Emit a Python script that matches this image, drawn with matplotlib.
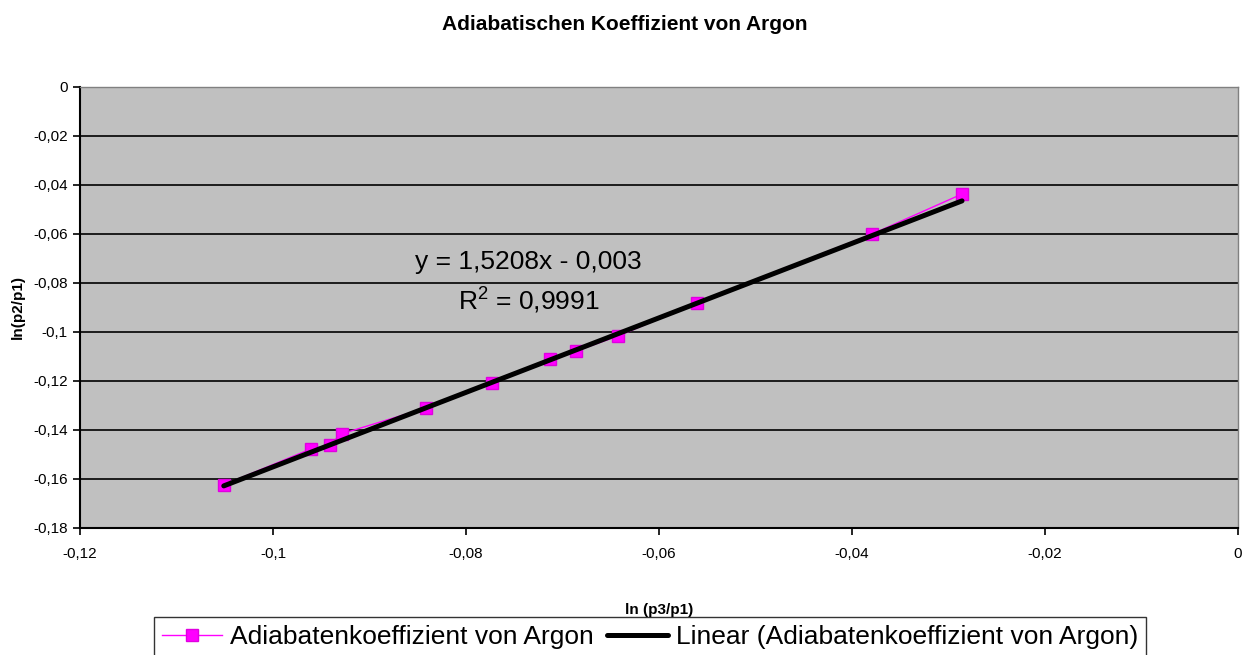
import numpy as np
import matplotlib
matplotlib.use('Agg')
import matplotlib.pyplot as plt
from matplotlib.ticker import FuncFormatter, MultipleLocator

ln_p3_p1 = [-0.1051, -0.0961, -0.0941, -0.0929, -0.0841, -0.0773,
            -0.0713, -0.0686, -0.0642, -0.0561, -0.0379, -0.0286]
ln_p2_p1 = [-0.1624, -0.1478, -0.1461, -0.1416, -0.1310, -0.1208,
            -0.1110, -0.1078, -0.1016, -0.0882, -0.0600, -0.0437]

steigung = 1.5208
achsenabschnitt = -0.003

plt.rcParams['font.family'] = ['Liberation Sans', 'DejaVu Sans']


def komma(v, pos):
    if abs(v) < 1e-12:
        return '0'
    return ('%g' % round(v, 4)).replace('.', ',')


fig = plt.figure(figsize=(12.5, 6.55), dpi=100)
ax = fig.add_axes([0.064, 0.194, 0.9264, 0.6732])
ax.set_facecolor('#c0c0c0')

x = np.array(ln_p3_p1)
y = np.array(ln_p2_p1)
ax.plot(x, y, color='#ff00ff', lw=1, marker='s', ms=9, mfc='#ff00ff',
        mec='#e000e0', label='Adiabatenkoeffizient von Argon', zorder=3)

xt = np.array([x.min(), x.max()])
ax.plot(xt, steigung * xt + achsenabschnitt, color='black', lw=3.6,
        solid_capstyle='round',
        label='Linear (Adiabatenkoeffizient von Argon)', zorder=4)

ax.set_xlim(-0.12, 0)
ax.set_ylim(-0.18, 0)
ax.xaxis.set_major_locator(MultipleLocator(0.02))
ax.yaxis.set_major_locator(MultipleLocator(0.02))
ax.xaxis.set_major_formatter(FuncFormatter(komma))
ax.yaxis.set_major_formatter(FuncFormatter(komma))
ax.grid(axis='y', color='black', lw=1.2)
ax.set_axisbelow(True)
ax.tick_params(labelsize=11, direction='out', length=5, width=1.2)
ax.tick_params(axis='x', pad=9)
ax.tick_params(axis='y', pad=4)

for s in ['top', 'right']:
    ax.spines[s].set_color('#808080')
    ax.spines[s].set_linewidth(1)
for s in ['left', 'bottom']:
    ax.spines[s].set_color('black')
    ax.spines[s].set_linewidth(1.5)

ax.set_xlabel('ln (p3/p1)', fontsize=11, fontweight='bold')
ax.xaxis.set_label_coords(0.5, -0.17)
ax.set_ylabel('ln(p2/p1)', fontsize=11, fontweight='bold')
ax.yaxis.set_label_coords(-0.048, 0.5)
fig.text(0.5, 0.962, 'Adiabatischen Koeffizient von Argon', fontsize=15,
         fontweight='bold', ha='center', va='center')

ax.text(-0.0735, -0.0743, 'y = 1,5208x - 0,003', fontsize=19,
        ha='center', va='baseline')
ax.text(-0.0735, -0.0910, '$\\mathregular{R^2}$ = 0,9991', fontsize=19,
        ha='center', va='baseline')

leg = fig.legend(loc='upper center', bbox_to_anchor=(0.52, 0.058), ncol=2,
                 fontsize=19, frameon=True, fancybox=False, edgecolor='black',
                 handlelength=2.3, handletextpad=0.3, columnspacing=0.5,
                 borderpad=0.3, borderaxespad=0)
leg.get_frame().set_linewidth(1)

fig.savefig('out.png', dpi=100)
